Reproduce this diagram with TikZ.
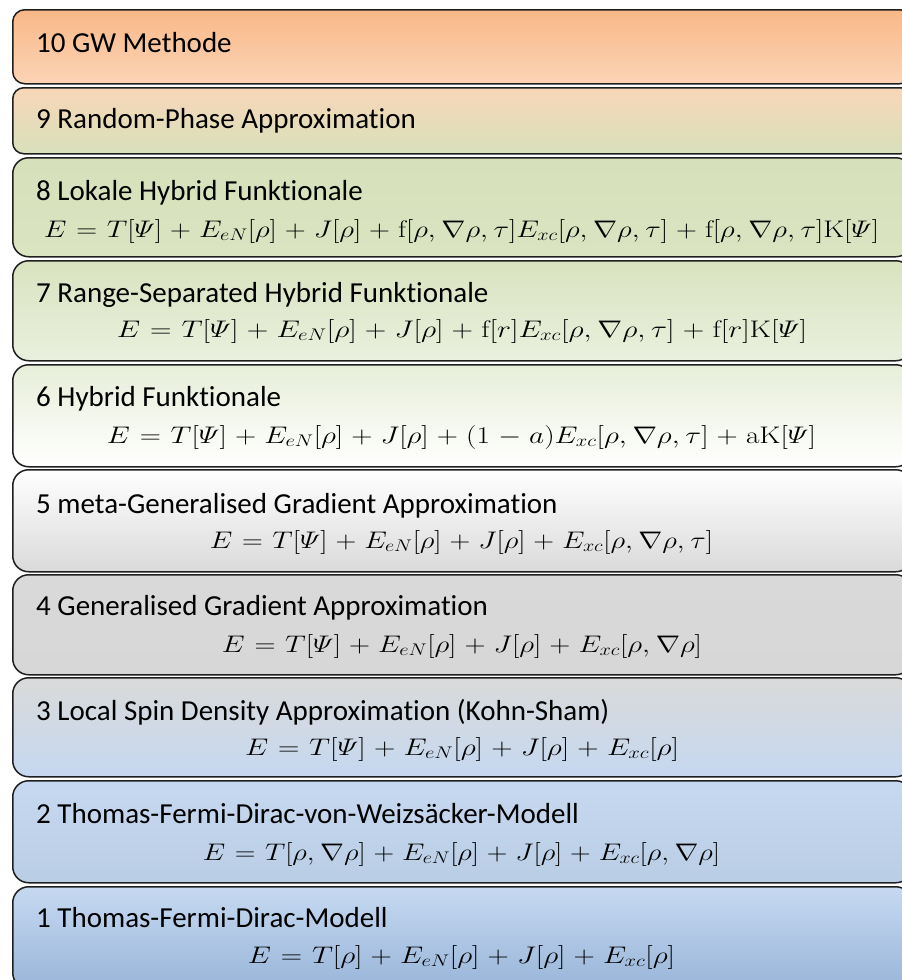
\RequirePackage{fix-cm}
\documentclass[tikz,border=0pt]{standalone}
\usepackage{fontspec}
\newfontfamily\lblfont[Ligatures={NoCommon,NoContextual,NoRare}]{Carlito}
\tikzset{
  lvl/.style={draw=black!88, line width=1.5pt, anchor=north west, inner sep=0pt,
              minimum width=899pt, rounded corners=#1},
  lvl/.default=16pt,
  lbl/.style={anchor=base west, inner sep=0pt, font=\lblfont\fontsize{29}{34}\selectfont},
  eqn/.style={anchor=base, inner sep=0pt, font=\fontsize{24}{30}\selectfont},
}
\definecolor{c10a}{HTML}{F9B887}\definecolor{c10b}{HTML}{FBD4B6}
\definecolor{c9a}{HTML}{F8D6B8}\definecolor{c9b}{HTML}{D8E1BB}
\definecolor{c8a}{HTML}{D6E0B9}\definecolor{c8b}{HTML}{DAE4C2}
\definecolor{c7a}{HTML}{D9E3BF}\definecolor{c7b}{HTML}{E9F0DE}
\definecolor{c6a}{HTML}{E7EED9}\definecolor{c6b}{HTML}{FFFFFF}
\definecolor{c5a}{HTML}{FFFFFF}\definecolor{c5b}{HTML}{DADADA}
\definecolor{c4a}{HTML}{D9D9D9}\definecolor{c4b}{HTML}{D7D7D7}
\definecolor{c3a}{HTML}{DADADA}\definecolor{c3b}{HTML}{C5D8F0}
\definecolor{c2a}{HTML}{C6D9F0}\definecolor{c2b}{HTML}{B9CDE5}
\definecolor{c1a}{HTML}{C6D9F1}\definecolor{c1b}{HTML}{99B5D9}
\newcommand{\Psii}{\mathnormal{\Psi}}
\newcommand{\tii}{t\kern0pt i}
\newcommand{\eqw}[2]{\resizebox{#1}{\height}{$\thickmuskip=6mu\medmuskip=5mu\thinmuskip=3.5mu #2$}}
\begin{document}
\begin{tikzpicture}[x=1pt,y=-1pt]
\useasboundingbox (0,0) rectangle (902,980);
\clip (0,0) rectangle (902,980);
% boxes
\node[lvl=12pt, minimum height=74pt, top color=c10a, bottom color=c10b] (b10) at (12,9) {};
\node[lvl=11pt, minimum height=66pt, top color=c9a, bottom color=c9b] (b9) at (12,87) {};
\node[lvl, minimum height=99pt, top color=c8a, bottom color=c8b] (b8) at (12,157) {};
\node[lvl, minimum height=100pt, top color=c7a, bottom color=c7b] (b7) at (12,260) {};
\node[lvl, minimum height=102pt, top color=c6a, bottom color=c6b] (b6) at (12,364) {};
\node[lvl, minimum height=102pt, top color=c5a, bottom color=c5b] (b5) at (12,469) {};
\node[lvl, minimum height=100pt, top color=c4a, bottom color=c4b] (b4) at (12,574) {};
\node[lvl, minimum height=99pt, top color=c3a, bottom color=c3b] (b3) at (12,677) {};
\node[lvl, minimum height=102pt, top color=c2a, bottom color=c2b] (b2) at (12,780) {};
\node[lvl, minimum height=102pt, top color=c1a, bottom color=c1b] (b1) at (12,886) {};
% labels
\node[lbl] (t10) at (36,52) {10 GW Methode};
\node[lbl] (t9) at (36,128) {9 Random-Phase Approxima\tii on};
\node[lbl] (t8) at (36,200) {8 Lokale Hybrid Funk\tii onale};
\node[lbl] (t7) at (36,302) {7 Range-Separated Hybrid Funk\tii onale};
\node[lbl] (t6) at (36,406) {6 Hybrid Funk\tii onale};
\node[lbl] (t5) at (36,513) {5 meta-Generalised Gradient Approxima\tii on};
\node[lbl] (t4) at (36,615) {4 Generalised Gradient Approxima\tii on};
\node[lbl] (t3) at (36,720) {3 Local Spin Density Approxima\tii on (Kohn-Sham)};
\node[lbl] (t2) at (36,823) {2 Thomas-Fermi-Dirac-von-Weizsäcker-Modell};
\node[lbl] (t1) at (36,927) {1 Thomas-Fermi-Dirac-Modell};
% formulas
\node[eqn] (f8) at (461.5,237) {\eqw{835pt}{E=T[\Psii]+E_{eN}[\rho]+J[\rho]+\mathrm{f}[\rho,\nabla\rho,\tau]E_{xc}[\rho,\nabla\rho,\tau]+\mathrm{f}[\rho,\nabla\rho,\tau]\mathrm{K}[\Psii]}};
\node[eqn] (f7) at (462,337) {\eqw{690pt}{E=T[\Psii]+E_{eN}[\rho]+J[\rho]+\mathrm{f}[r]E_{xc}[\rho,\nabla\rho,\tau]+\mathrm{f}[r]\mathrm{K}[\Psii]}};
\node[eqn] (f6) at (461.5,443) {\eqw{709pt}{E=T[\Psii]+E_{eN}[\rho]+J[\rho]+(1-a)E_{xc}[\rho,\nabla\rho,\tau]+\mathrm{aK}[\Psii]}};
\node[eqn] (f5) at (461.5,548) {\eqw{503pt}{E=T[\Psii]+E_{eN}[\rho]+J[\rho]+E_{xc}[\rho,\nabla\rho,\tau]}};
\node[eqn] (f4) at (462,652) {\eqw{480pt}{E=T[\Psii]+E_{eN}[\rho]+J[\rho]+E_{xc}[\rho,\nabla\rho]}};
\node[eqn] (f3) at (462,755) {\eqw{434pt}{E=T[\Psii]+E_{eN}[\rho]+J[\rho]+E_{xc}[\rho]}};
\node[eqn] (f2) at (461.5,860) {\eqw{517pt}{E=T[\rho,\nabla\rho]+E_{eN}[\rho]+J[\rho]+E_{xc}[\rho,\nabla\rho]}};
\node[eqn] (f1) at (461.5,963) {\eqw{427pt}{E=T[\rho]+E_{eN}[\rho]+J[\rho]+E_{xc}[\rho]}};
\end{tikzpicture}
\end{document}
